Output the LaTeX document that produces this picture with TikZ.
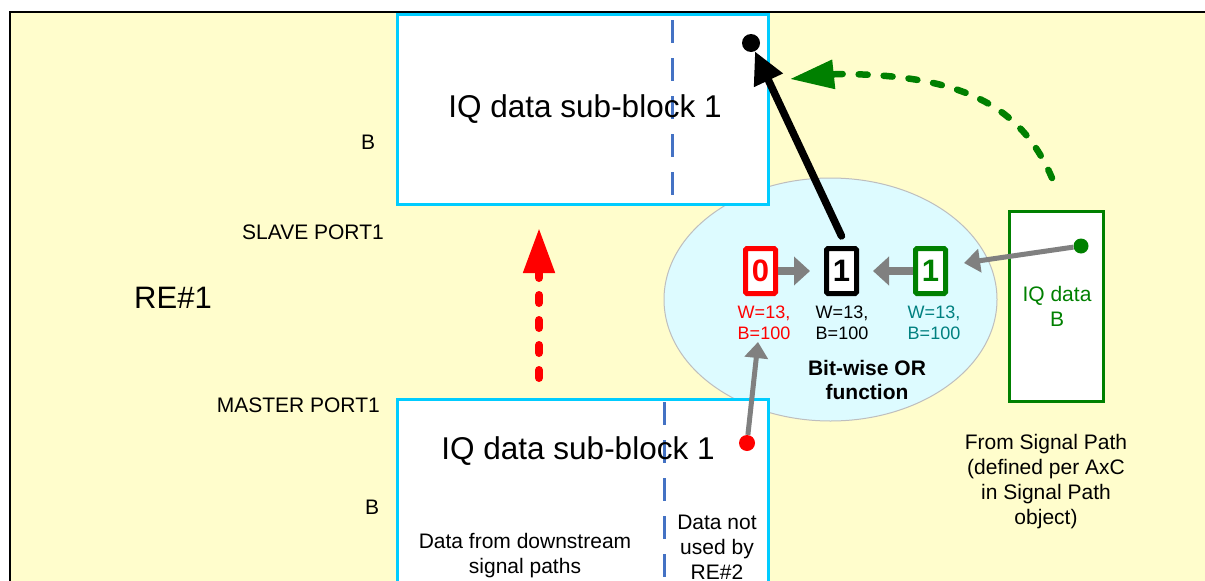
\documentclass[tikz,border=0pt]{standalone}
\usepackage{fontspec}
\setmainfont{Liberation Sans}
\usetikzlibrary{arrows.meta,shapes.geometric,calc}
\definecolor{bgyellow}{RGB}{255,253,204}
\definecolor{cyanb}{RGB}{0,204,255}
\definecolor{dashblue}{RGB}{68,114,196}
\definecolor{ellfill}{RGB}{221,251,255}
\definecolor{ellline}{RGB}{190,190,190}
\definecolor{dgreen}{RGB}{0,128,0}
\definecolor{tealtxt}{RGB}{0,128,128}
\definecolor{arrgray}{RGB}{128,128,128}
\newcommand\fsz[2]{\fontsize{#1}{#2}\selectfont}
\begin{document}
\begin{tikzpicture}[x=1pt,y=-1pt,
  blockbox/.style={draw=cyanb,line width=3pt,fill=white,minimum width=371pt,inner sep=0pt},
  subdiv/.style={draw=dashblue,line width=3pt,dash pattern=on 23pt off 15pt},
  txt/.style={inner sep=0pt,align=center,font=\fsz{21}{25}},
  bigtxt/.style={inner sep=0pt,font=\fsz{31.5}{36}},
  lbl/.style={inner sep=0pt,align=center,font=\fsz{18}{21}},
  digitbox/.style={line width=5pt,fill=white,minimum width=30pt,minimum height=45pt,inner sep=0pt,rounded corners=1.5pt,font=\fsz{31}{31}\bfseries},
  dot/.style={circle,inner sep=0pt},
  grayarr/.style={draw=arrgray,line width=8pt,-{Triangle[length=16pt,width=28pt]}},
  grayarrthin/.style={draw=arrgray,line width=5pt,-{Triangle[length=16pt,width=23pt]}},
  blkarr/.style={draw=black,line width=7.5pt,line cap=round,-{Triangle[length=32pt,width=30pt]}},
  reddash/.style={draw=red,line width=8pt,line cap=round,dash pattern=on 8pt off 17pt,-{Triangle[length=45pt,width=30pt]}},
  grdash/.style={draw=dgreen,line width=6.5pt,line cap=round,dash pattern=on 9pt off 16pt,-{Triangle[length=44pt,width=28pt]}}
]
\useasboundingbox (0,0) rectangle (1205,581);
% background frame (RE#1)
\fill[bgyellow] (10,12) rectangle (1215,600);
\draw[line width=2.5pt] (10,600) -- (10,12) -- (1215,12);

% Bit-wise OR ellipse (behind boxes)
\node[ellipse,draw=ellline,fill=ellfill,line width=1pt,minimum width=333pt,minimum height=243pt,inner sep=0pt] (ell) at (830.5,299.5) {};

% top IQ block (slave port)
\node[blockbox,minimum height=190pt] (top) at (583,109.5) {};
\draw[subdiv] (672,20) -- (672,200);
\node[bigtxt] (toptxt) at (585,109) {IQ data sub-block 1};

% bottom IQ block (master port)
\node[blockbox,minimum height=201pt] (bot) at (582.5,500) {};
\draw[subdiv] (664,402) -- (664,600);
\node[bigtxt] (bottxt) at (578,451) {IQ data sub-block 1};
\node[txt] (downtxt) at (525,556) {Data from downstream\\signal paths};
\node[txt] (nottxt) at (717,547) {Data not\\used by\\RE\#2};

% left labels
\node[txt] (b1) at (368,142) {B};
\node[txt,anchor=east] (slave) at (384,232) {SLAVE PORT1};
\node[inner sep=0pt,font=\fsz{31}{36}] (re1) at (173,298) {RE\#1};
\node[txt,anchor=east] (master) at (380,405) {MASTER PORT1};
\node[txt] (b2) at (372,507) {B};

% small bit boxes
\node[digitbox,draw=red,text=red] (r1box) at (760.5,271) {0};
\node[digitbox,draw=black,text=black] (k1box) at (841.5,271) {1};
\node[digitbox,draw=dgreen,text=dgreen] (g1box) at (930.5,271) {1};
\node[lbl,text=red] (rlbl) at (764,322.4) {W=13,\\B=100};
\node[lbl,text=black] (klbl) at (842,322.4) {W=13,\\B=100};
\node[lbl,text=tealtxt] (glbl) at (934,322.4) {W=13,\\B=100};
\node[inner sep=0pt,align=center,font=\fsz{21}{24}\bfseries] (bw) at (867,380) {Bit-wise OR\\function};

% source box
\node[draw=dgreen,line width=3pt,fill=white,minimum width=94pt,minimum height=190pt,inner sep=0pt] (srcbox) at (1056,306.5) {};
\node[txt,text=dgreen] (srcin) at (1057,306.4) {IQ data\\B};
\node[txt] (srctxt) at (1046,481.5) {From Signal Path\\(defined per AxC\\in Signal Path\\object)};

% dots
\node[dot,fill=black,minimum size=18pt] (bdot) at (751,43) {};
\node[dot,fill=red,minimum size=16pt] (rdot) at (747,443) {};
\node[dot,fill=dgreen,minimum size=15pt] (gdot) at (1081,246) {};

% gray arrows
\coordinate (gtip) at (964,263);
\coordinate (rtip) at (758,342);
\draw[grayarr] (r1box.east) -- ([xshift=-14pt]k1box.west);
\draw[grayarr] (g1box.west) -- ([xshift=14pt]k1box.east);
\draw[grayarrthin] (gdot) -- (gtip);
\draw[grayarrthin] (rdot) -- (rtip);

% black result arrow
\draw[blkarr] ([yshift=10pt]k1box.north) -- (bdot);

% red dashed arrow (master -> slave)
\draw[reddash] ($(bot.north)+(-43.5,-20)$) -- ($(top.south)+(-44,22)$);

% green dashed arrow
\coordinate (gstart) at ($(srcbox.north)+(-4,-32)$);
\coordinate (gend) at (790,79);
\draw[grdash] (gstart) .. controls (1022,108) and (965,74) .. (837,74) -- (gend);
\end{tikzpicture}
\end{document}
